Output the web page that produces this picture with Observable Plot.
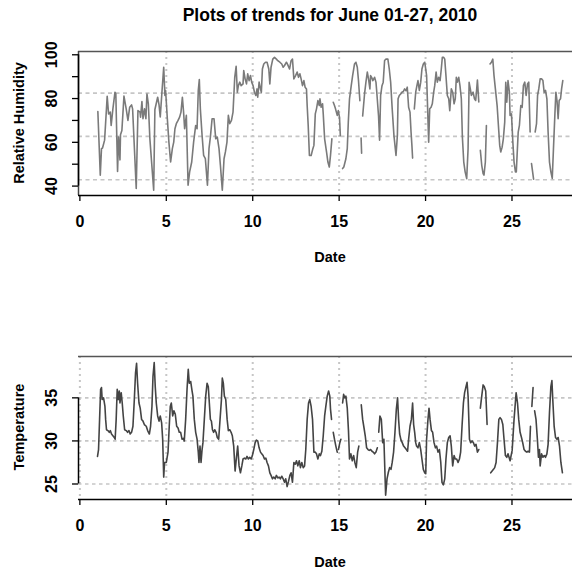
<!DOCTYPE html>
<html><head><meta charset="utf-8">
<script src="https://cdn.jsdelivr.net/npm/d3@7"></script>
<script src="https://cdn.jsdelivr.net/npm/@observablehq/plot@0.6"></script>
<style>
html,body{margin:0;padding:0;background:#fff;overflow:hidden;width:572px;height:570px;}
#wrap{position:relative;width:572px;height:570px;overflow:hidden;font-family:"Liberation Sans",Arial,Helvetica,sans-serif;color:#000;}
#wrap svg{max-width:none !important;}
.p{position:absolute;left:0;}
.t{position:absolute;font-weight:bold;white-space:nowrap;transform:translate(-50%,-50%);line-height:1;}
.r{transform:translate(-50%,-50%) rotate(-90deg);}
</style></head><body><div id="wrap"></div>
<script>
// ---- data ----
const title = "Plots of trends for June 01-27, 2010";
const xLabel = "Date";
const rhLabel = "Relative Humidity";
const tempLabel = "Temperature";
const xTicks = [0, 5, 10, 15, 20, 25];
const rhTicks = [40, 50, 60, 70, 80, 90, 100];
const rhTickLabels = [40, 60, 80, 100];
const tempTicks = [25, 30, 35];
const rhGridY = [42.9, 62.7, 82.5];
const tempGridY = [25, 30, 35];
const rhGridX = [5, 10, 15, 20, 25];
const tempGridX = [0, 5, 10, 15, 20, 25];
// [day, relative humidity %]; null = missing reading
const rhSeries = [
[1.04,74.1],[1.18,45.0],[1.25,57.1],[1.31,57.4],[1.43,61.0],[1.58,81.0],[1.66,73.0],[1.76,73.8],[1.81,67.7],[1.91,75.3],[2.03,82.9],[2.08,82.1],[2.18,46.7],[2.24,62.4],[2.32,52.0],[2.35,63.5],[2.43,65.4],[2.55,81.1],[2.68,75.3],[2.78,70.0],[2.88,76.0],[2.99,77.1],[3.05,75.3],[3.26,38.9],[3.36,74.5],[3.48,73.8],[3.51,71.5],[3.59,78.6],[3.65,70.8],[3.74,75.3],[3.82,70.8],[3.88,82.1],[3.96,77.6],[4.05,61.6],[4.27,38.1],[4.34,75.0],[4.50,80.6],[4.58,77.1],[4.65,71.6],[4.75,83.2],[4.85,94.3],[4.92,81.4],[4.96,83.7],[5.06,70.8],[5.15,60.1],[5.25,51.0],[5.35,57.1],[5.43,60.1],[5.50,66.2],[5.58,68.5],[5.68,70.0],[5.77,71.5],[5.85,73.8],[5.93,80.6],[6.00,73.8],[6.06,66.2],[6.16,72.3],[6.26,40.4],[6.35,46.5],[6.47,51.0],[6.58,60.1],[6.70,67.7],[6.78,66.2],[6.85,83.7],[6.91,88.7],[6.97,75.3],[7.07,63.2],[7.16,54.0],[7.26,52.5],[7.38,40.4],[7.47,57.1],[7.55,62.4],[7.65,70.8],[7.76,70.8],[7.86,61.6],[7.95,62.4],[8.05,57.1],[8.13,49.5],[8.24,38.1],[8.34,52.5],[8.42,55.6],[8.51,60.1],[8.59,72.3],[8.67,68.5],[8.77,70.0],[8.86,73.8],[8.96,89.7],[9.04,94.7],[9.11,82.9],[9.17,85.9],[9.25,87.5],[9.33,85.9],[9.44,86.7],
[9.48,92.8],[9.56,89.0],[9.64,86.7],[9.71,91.3],[9.79,88.2],[9.87,90.5],[9.94,87.5],[10.02,85.9],[10.10,82.9],[10.18,81.4],[10.25,84.4],[10.29,80.6],[10.37,87.5],[10.45,84.4],[10.50,82.9],[10.56,93.5],[10.64,95.8],[10.74,96.6],[10.83,96.6],[10.93,93.5],[10.99,86.7],[11.06,94.3],[11.16,98.0],[11.26,98.8],[11.37,98.0],[11.45,97.3],[11.57,96.6],[11.68,95.8],[11.76,94.3],[11.84,95.1],[11.95,96.6],[12.03,95.4],[12.13,93.5],[12.22,97.3],[12.30,98.0],[12.38,89.0],[12.48,90.5],[12.57,92.1],[12.65,89.7],[12.73,91.3],[12.80,89.0],[12.88,85.9],[12.96,88.2],[13.03,85.2],[13.11,84.4],[13.15,76.8],[13.21,67.7],[13.28,54.0],[13.38,54.0],[13.48,57.1],[13.54,58.6],[13.62,73.0],[13.69,75.3],[13.77,79.1],[13.85,76.8],[13.89,79.9],[13.96,76.0],[14.04,77.6],[14.08,73.0],[14.16,61.6],[14.27,55.6],[14.35,51.0],[14.43,48.7],[14.50,54.0],[14.58,61.6],[14.62,null],
[14.66,78.3],[14.73,76.8],[14.79,75.3],[14.89,72.3],[14.95,74.5],[15.02,71.5],[15.07,63.0],[15.13,null],
[15.20,48.0],[15.27,48.7],[15.39,52.5],[15.47,57.1],[15.53,69.2],[15.60,79.9],[15.70,85.9],[15.78,90.5],[15.89,95.8],[15.97,96.6],[16.05,94.3],[16.12,88.2],[16.20,79.0],[16.24,null],[16.27,62.0],[16.30,55.0],[16.33,null],
[16.36,72.0],[16.47,82.1],[16.55,87.5],[16.63,92.1],[16.70,89.0],[16.78,84.4],[16.82,90.5],[16.88,89.7],[16.95,88.2],[17.05,89.7],[17.13,87.5],[17.17,83.7],[17.28,72.0],[17.34,61.0],[17.40,81.4],[17.48,85.9],[17.55,87.5],[17.63,97.4],[17.71,98.0],[17.82,98.0],[17.90,93.5],[17.98,87.5],[18.07,75.3],[18.17,63.2],[18.29,54.0],[18.37,63.2],[18.41,79.9],[18.48,81.4],[18.56,82.1],[18.63,82.9],[18.71,83.2],[18.79,84.4],[18.87,83.6],[18.94,85.2],[19.02,76.0],[19.10,73.8],[19.16,64.7],[19.21,58.6],[19.25,52.8],[19.30,null],
[19.35,75.3],[19.43,82.9],[19.50,85.9],[19.56,88.2],[19.64,83.7],[19.72,87.5],[19.79,93.5],[19.87,95.8],[19.95,96.6],[20.01,93.5],[20.06,90.5],[20.18,60.1],[20.24,75.3],[20.32,76.0],[20.39,77.6],[20.47,82.9],[20.53,85.9],[20.61,92.1],[20.68,87.5],[20.76,89.7],[20.84,88.2],[20.91,93.5],[20.97,98.8],[21.05,98.8],[21.11,98.0],[21.18,90.5],[21.26,81.4],[21.34,79.9],[21.40,74.5],[21.49,84.4],[21.57,82.9],[21.65,77.6],[21.72,79.9],[21.78,89.7],[21.84,87.5],[21.92,89.7],[21.99,85.9],[22.07,79.9],[22.13,62.4],[22.21,51.0],[22.29,46.5],[22.38,43.4],[22.46,57.1],[22.52,87.4],[22.59,84.4],[22.65,81.4],[22.75,82.9],[22.83,79.9],[22.90,79.1],[22.96,84.4],[23.00,88.5],[23.08,78.5],[23.12,null],
[23.17,56.3],[23.25,49.5],[23.33,45.7],[23.38,45.0],[23.46,51.0],[23.52,67.7],[23.62,null],
[23.73,95.8],[23.81,96.6],[23.89,98.0],[23.96,90.5],[24.04,84.4],[24.14,76.8],[24.24,64.7],[24.29,58.6],[24.35,55.6],[24.43,57.8],[24.50,61.6],[24.58,69.2],[24.64,87.4],[24.70,78.3],[24.77,88.2],[24.85,82.9],[24.89,72.3],[24.97,73.0],[25.05,60.1],[25.12,51.0],[25.20,46.5],[25.25,46.5],[25.36,64.7],[25.43,67.7],[25.51,76.8],[25.59,76.0],[25.66,85.9],[25.74,87.5],[25.82,81.4],[25.90,86.7],[25.97,87.5],[26.05,64.7],[26.09,null],
[26.13,50.3],[26.25,43.2],[26.30,null],
[26.34,64.7],[26.42,68.5],[26.48,81.4],[26.55,84.4],[26.63,89.0],[26.71,89.0],[26.79,88.2],[26.86,82.9],[26.94,83.7],[27.02,79.9],[27.09,64.7],[27.17,51.0],[27.25,46.5],[27.33,43.5],[27.40,57.1],[27.48,72.3],[27.54,82.9],[27.61,78.6],[27.67,70.8],[27.73,79.1],[27.81,79.9],[27.87,84.4],[27.94,88.2]
];
// [day, temperature]; null = missing reading
const tempSeries = [
[1.02,28.2],[1.08,29.0],[1.14,32.5],[1.20,36.0],[1.25,36.2],[1.29,34.8],[1.37,35.0],[1.45,34.0],[1.49,32.5],[1.54,31.3],[1.62,31.2],[1.70,31.0],[1.76,31.2],[1.83,30.8],[1.91,30.6],[1.99,30.4],[2.04,30.2],[2.10,32.5],[2.16,36.0],[2.22,34.8],[2.28,35.8],[2.32,34.4],[2.39,35.6],[2.45,34.4],[2.51,32.9],[2.59,31.3],[2.68,31.2],[2.76,31.0],[2.84,31.2],[2.91,30.8],[2.99,31.0],[3.07,31.7],[3.15,34.8],[3.22,37.9],[3.28,39.0],[3.34,36.7],[3.42,34.4],[3.49,33.8],[3.57,32.5],[3.65,32.3],[3.73,31.9],[3.84,31.7],[3.92,31.2],[4.02,30.8],[4.09,31.7],[4.17,34.0],[4.23,37.5],[4.30,39.1],[4.36,36.3],[4.42,34.4],[4.50,32.9],[4.58,32.3],[4.65,32.9],[4.73,32.1],[4.79,30.2],[4.85,25.8],[4.90,27.5],[5.00,27.5],[5.10,28.7],[5.17,31.7],[5.23,34.0],[5.29,34.4],[5.37,32.9],[5.44,33.5],[5.52,33.1],[5.60,31.7],[5.68,31.5],[5.75,31.0],[5.83,31.0],[5.91,30.2],[5.99,30.3],[6.04,30.0],[6.12,32.5],[6.20,36.0],[6.27,38.3],[6.33,36.7],[6.41,36.9],[6.49,35.8],[6.54,35.2],[6.62,32.5],[6.70,31.0],[6.78,30.2],[6.85,28.7],[6.89,27.5],[6.95,29.4],[7.01,27.5],[7.07,29.0],[7.12,29.8],[7.20,32.5],[7.28,35.2],[7.36,36.7],[7.43,36.3],[7.49,34.4],[7.55,32.5],[7.61,32.3],[7.67,31.3],[7.74,31.0],[7.80,31.3],[7.88,31.0],[7.95,30.4],[8.03,30.2],[8.11,32.5],[8.19,34.8],[8.24,37.3],[8.30,36.7],[8.36,35.2],[8.44,34.8],[8.52,32.5],[8.59,31.2],[8.67,31.3],[8.75,31.0],[8.82,30.6],[8.90,29.4],[8.98,26.5],[9.06,28.1],[9.13,29.4],[9.21,27.1],
[9.29,26.3],[9.37,27.1],[9.44,27.9],[9.52,28.0],[9.60,27.9],[9.67,28.2],[9.75,27.9],[9.83,28.1],[9.91,27.9],[9.98,28.3],[10.06,29.0],[10.14,29.8],[10.21,30.1],[10.29,30.0],[10.37,29.2],[10.45,28.7],[10.52,28.5],[10.60,28.3],[10.68,27.9],[10.76,28.0],[10.83,27.5],[10.91,27.1],[10.99,26.3],[11.06,26.0],[11.14,25.6],[11.22,25.8],[11.30,25.6],[11.37,26.0],[11.45,25.7],[11.53,25.8],[11.60,25.6],[11.68,25.9],[11.76,25.6],[11.84,25.2],[11.91,25.6],[11.99,24.7],[12.07,25.3],[12.15,26.0],[12.22,26.3],[12.30,25.2],[12.38,27.5],[12.46,27.3],[12.53,27.7],[12.61,27.1],[12.69,27.7],[12.76,26.9],[12.84,27.5],[12.92,26.9],[13.00,27.1],[13.07,29.0],[13.15,32.5],[13.23,34.4],[13.30,34.8],[13.38,34.0],[13.46,32.5],[13.54,28.7],[13.61,28.7],[13.69,28.5],[13.77,27.9],[13.85,28.5],[13.92,28.3],[14.00,28.8],[14.08,30.6],[14.16,32.9],[14.23,34.0],[14.31,35.2],[14.39,35.8],[14.46,35.2],[14.50,33.7],[14.56,32.5],[14.61,null],
[14.66,31.0],[14.73,30.2],[14.81,29.4],[14.89,28.7],[14.92,null],[14.96,29.0],[15.04,29.8],[15.10,30.2],[15.15,null],
[15.20,34.4],[15.26,35.4],[15.33,35.0],[15.39,35.2],[15.47,33.8],[15.54,31.2],[15.60,27.9],[15.68,28.5],[15.76,27.7],[15.84,28.3],[15.91,27.5],[15.99,26.9],[16.07,28.7],[16.14,29.4],[16.21,null],
[16.28,34.2],[16.36,32.5],[16.44,31.5],[16.51,30.6],[16.59,29.2],[16.67,29.0],[16.74,28.9],[16.82,29.0],[16.90,28.8],[16.97,28.7],[17.05,28.5],[17.13,28.7],[17.21,29.2],[17.25,null],
[17.29,31.0],[17.36,32.9],[17.44,32.5],[17.52,29.8],[17.59,30.2],[17.69,23.7],[17.77,25.6],[17.84,26.3],[17.92,26.9],[18.00,26.7],[18.07,27.5],[18.15,28.7],[18.23,31.0],[18.31,33.7],[18.38,35.0],[18.44,32.5],[18.50,30.8],[18.58,30.1],[18.65,29.8],[18.73,29.4],[18.81,29.2],[18.89,29.0],[18.96,28.8],
[19.02,30.2],[19.10,31.7],[19.18,32.5],[19.25,34.4],[19.31,31.9],[19.37,31.0],[19.43,29.8],[19.48,29.4],[19.56,29.2],[19.64,29.8],[19.72,29.0],[19.79,27.9],[19.87,26.7],[19.95,26.3],[20.01,26.2],[20.06,30.2],[20.14,32.5],[20.20,33.8],[20.26,32.5],[20.34,31.2],[20.41,31.0],[20.49,29.8],[20.57,29.2],[20.64,29.4],[20.72,28.7],[20.80,29.0],[20.88,27.5],[20.95,25.2],[21.03,24.9],[21.11,25.6],[21.18,27.9],[21.26,29.8],[21.34,30.4],[21.42,30.6],[21.49,29.4],[21.57,27.1],[21.65,28.3],[21.72,27.9],[21.80,27.9],[21.88,27.5],[21.96,27.9],[22.03,28.7],[22.11,31.7],[22.19,34.4],[22.26,35.6],[22.34,36.3],[22.40,36.8],[22.46,35.2],[22.54,30.2],[22.61,29.8],[22.69,30.0],[22.77,29.8],[22.84,29.4],[22.92,29.6],[23.00,28.7],[23.08,29.0],[23.12,null],
[23.17,33.8],[23.25,35.2],[23.33,36.5],[23.40,36.3],[23.48,35.8],[23.56,31.9],[23.66,null],
[23.77,26.3],[23.85,26.5],[23.93,26.7],[24.00,26.9],[24.08,27.5],[24.16,29.8],[24.24,32.5],[24.31,32.7],[24.39,32.5],[24.47,31.9],[24.54,30.2],[24.62,28.3],[24.70,28.1],[24.77,28.5],[24.89,27.7],[25.01,28.9],[25.12,32.5],[25.24,35.6],[25.32,34.4],[25.39,32.5],[25.47,31.0],[25.55,30.4],[25.62,29.8],[25.70,29.0],[25.78,28.8],[25.86,28.7],[25.93,28.8],[26.01,28.7],[26.07,31.7],[26.11,null],
[26.15,34.0],[26.22,36.2],[26.27,null],
[26.31,33.5],[26.39,32.5],[26.47,30.2],[26.53,28.1],[26.59,29.0],[26.63,27.1],[26.71,28.5],[26.79,28.1],[26.87,28.3],[26.94,28.1],[27.02,28.5],[27.09,29.6],[27.17,33.3],[27.25,36.3],[27.31,37.0],[27.36,34.8],[27.44,31.7],[27.52,30.4],[27.60,30.2],[27.67,30.4],[27.75,29.4],[27.83,27.5],[27.92,26.3]
];

// ---- layout ----
const xDom = [-0.08, 29.08];
const FONT = "'Liberation Sans', Arial, Helvetica, sans-serif";
const TICK_FS = 16;
const wrap = document.getElementById("wrap");

function panel(o) {
  const marks = [
    Plot.ruleY(o.gridY, {stroke: "#c6c6c6", strokeWidth: 1.6, strokeDasharray: o.hDash}),
    Plot.ruleX(o.gridX, {stroke: "#c6c6c6", strokeWidth: 2, strokeDasharray: "2,4"}),
    Plot.line(o.series, {x: d => d[0], y: d => d[1], stroke: o.color, strokeWidth: 1.6}),
    Plot.ruleY([o.yDom[1]], {stroke: "#555", strokeWidth: 1.5}),
    Plot.ruleY([o.yDom[0]], {stroke: "#000", strokeWidth: 1.5}),
    Plot.ruleX([xDom[0]], {y1: o.ticks[0], y2: o.ticks[o.ticks.length - 1], stroke: "#000", strokeWidth: 1.5}),
    Plot.axisX(xTicks, {anchor: "bottom", tickSize: 6, tickPadding: 14, strokeWidth: 1.3, label: null,
      fontSize: TICK_FS, fontWeight: "bold", tickFormat: d => String(d)}),
    Plot.axisY(o.ticks, {anchor: "left", tickSize: 6, strokeWidth: 1.3, tickFormat: () => "", label: null}),
    Plot.text(o.labels, {y: d => d, text: d => String(d), frameAnchor: "left", dx: -27, rotate: -90,
      textAnchor: "middle", lineAnchor: "middle", fontSize: TICK_FS, fontWeight: "bold"})
  ];
  if (o.leftEdge) marks.splice(4, 0, Plot.ruleX([xDom[0]], {stroke: "#444", strokeWidth: 1.5}));
  const svg = Plot.plot({
    width: 600, height: o.h,
    marginLeft: 78, marginRight: 18, marginTop: o.mt, marginBottom: o.mb,
    x: {domain: xDom, axis: null},
    y: {domain: o.yDom, axis: null},
    style: {fontFamily: FONT, fontSize: "16px", fontWeight: "bold", color: "#000", background: "transparent", overflow: "visible"},
    marks
  });
  svg.classList.add("p");
  svg.style.top = o.top + "px";
  wrap.appendChild(svg);
}

panel({top: 0, h: 290, mt: 51, mb: 95, yDom: [35.7, 101.5], series: rhSeries, color: "#7a7a7a",
  ticks: rhTicks, labels: rhTickLabels, gridY: rhGridY, gridX: rhGridX, hDash: "4,3.5", leftEdge: true});
panel({top: 290, h: 280, mt: 66, mb: 71, yDom: [23.2, 39.8], series: tempSeries, color: "#444",
  ticks: tempTicks, labels: tempTicks, gridY: tempGridY, gridX: tempGridX, hDash: "3.5,3.5", leftEdge: false});

function label(text, x, y, size, rot) {
  const d = document.createElement("div");
  d.className = "t" + (rot ? " r" : "");
  d.textContent = text;
  d.style.left = x + "px"; d.style.top = y + "px"; d.style.fontSize = size + "px";
  wrap.appendChild(d);
}
label(title, 330, 16, 17.5, false);
label(xLabel, 330, 257, 14.5, false);
label(xLabel, 330, 562, 14.5, false);
label(rhLabel, 19, 123, 14.5, true);
label(tempLabel, 19, 427, 14.5, true);
</script>
</body></html>
